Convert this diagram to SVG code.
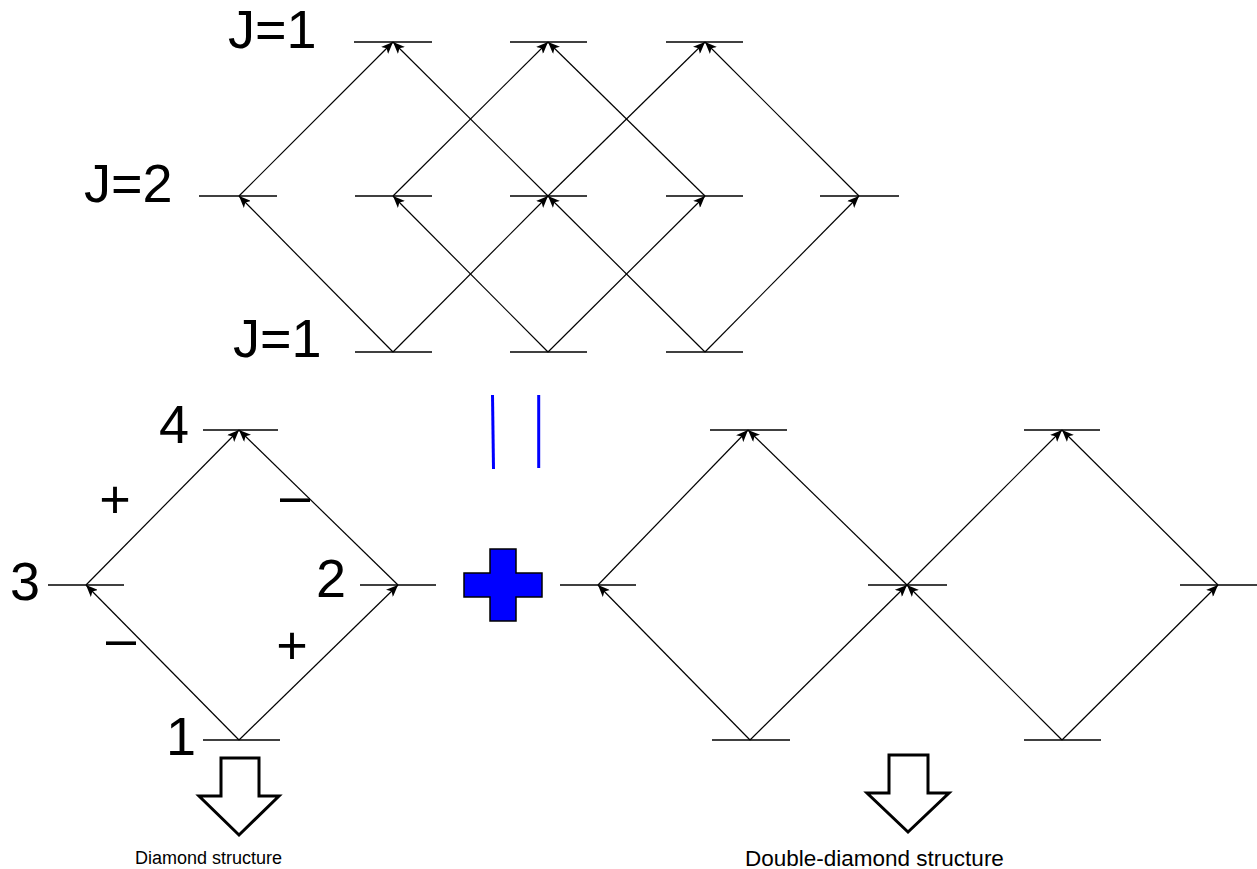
<svg xmlns="http://www.w3.org/2000/svg" width="1257" height="869" viewBox="0 0 1257 869">
<style>
.lvl{stroke:#000;stroke-width:1.5;fill:none}
.tr{stroke:#000;stroke-width:1.2;fill:none;marker-end:url(#ah)}
.big{font-family:"Liberation Sans",Arial,sans-serif;font-size:54px;fill:#000}
.num{font-family:"Liberation Sans",Arial,sans-serif;font-size:54px;fill:#000}
.cap{font-family:"Liberation Sans",Arial,sans-serif;font-size:18px;fill:#000}
.blk{fill:#fff;stroke:#000;stroke-width:3}
</style>
<defs>
<marker id="ah" markerUnits="userSpaceOnUse" markerWidth="12" markerHeight="10" viewBox="0 0 12 10" refX="12" refY="5" orient="auto">
<path d="M0,0 L12,5 L0,10 L3,5 z" fill="#000"/>
</marker>
</defs>
<rect width="1257" height="869" fill="#fff"/>

<g id="top-levels">
<line class="lvl" x1="354" y1="42" x2="432" y2="42"/>
<line class="lvl" x1="510" y1="42" x2="587" y2="42"/>
<line class="lvl" x1="666" y1="42" x2="743" y2="42"/>
<line class="lvl" x1="199" y1="196" x2="277" y2="196"/>
<line class="lvl" x1="355" y1="196" x2="432" y2="196"/>
<line class="lvl" x1="510" y1="196" x2="587" y2="196"/>
<line class="lvl" x1="666" y1="196" x2="743" y2="196"/>
<line class="lvl" x1="820" y1="196" x2="899" y2="196"/>
<line class="lvl" x1="355" y1="352" x2="432" y2="352"/>
<line class="lvl" x1="510" y1="352" x2="587" y2="352"/>
<line class="lvl" x1="666" y1="352" x2="743" y2="352"/>
</g>
<g id="top-labels">
<text class="big" x="228" y="48">J=1</text>
<text class="big" x="84" y="202">J=2</text>
<text class="big" x="233" y="357">J=1</text>
</g>

<g id="diamond-levels">
<line class="lvl" x1="203" y1="430" x2="278" y2="430"/>
<line class="lvl" x1="48" y1="585" x2="124" y2="585"/>
<line class="lvl" x1="360" y1="585" x2="436" y2="585"/>
<line class="lvl" x1="203" y1="740" x2="280" y2="740"/>
</g>
<g id="diamond-labels">
<text class="num" x="159" y="443">4</text>
<text class="num" x="10" y="600">3</text>
<text class="num" x="316" y="597">2</text>
<text class="num" x="166" y="755">1</text>
<text class="num" x="115" y="518" text-anchor="middle">+</text>
<text class="num" x="295" y="514" text-anchor="middle">–</text>
<text class="num" x="121" y="657" text-anchor="middle">–</text>
<text class="num" x="292" y="664" text-anchor="middle">+</text>
</g>

<g id="double-levels">
<line class="lvl" x1="710" y1="430" x2="787" y2="430"/>
<line class="lvl" x1="1024" y1="430" x2="1100" y2="430"/>
<line class="lvl" x1="560" y1="585" x2="636" y2="585"/>
<line class="lvl" x1="868" y1="585" x2="947" y2="585"/>
<line class="lvl" x1="1180" y1="585" x2="1257" y2="585"/>
<line class="lvl" x1="712" y1="740" x2="790" y2="740"/>
<line class="lvl" x1="1024" y1="740" x2="1101" y2="740"/>
</g>

<g id="equals">
<line x1="492.5" y1="395" x2="493.5" y2="469" stroke="#0000ff" stroke-width="3"/>
<line x1="538.7" y1="395" x2="538.7" y2="468" stroke="#0000ff" stroke-width="3"/>
</g>
<g id="plus">
<path d="M490,549 L516,549 L516,573 L542,573 L542,597 L516,597 L516,621 L490,621 L490,597 L464,597 L464,573 L490,573 Z" fill="#0000ff" stroke="#000" stroke-width="1.5"/>
</g>

<g id="connectors">
<line class="tr" x1="239" y1="196" x2="393" y2="42"/>
<line class="tr" x1="548" y1="196" x2="393" y2="42"/>
<line class="tr" x1="393" y1="196" x2="548" y2="42"/>
<line class="tr" x1="705" y1="196" x2="548" y2="42"/>
<line class="tr" x1="548" y1="196" x2="705" y2="42"/>
<line class="tr" x1="859" y1="196" x2="705" y2="42"/>
<line class="tr" x1="393" y1="352" x2="239" y2="196"/>
<line class="tr" x1="393" y1="352" x2="548" y2="196"/>
<line class="tr" x1="548" y1="352" x2="393" y2="196"/>
<line class="tr" x1="548" y1="352" x2="705" y2="196"/>
<line class="tr" x1="705" y1="352" x2="548" y2="196"/>
<line class="tr" x1="705" y1="352" x2="859" y2="196"/>

<line class="tr" x1="239" y1="740" x2="86" y2="585"/>
<line class="tr" x1="239" y1="740" x2="398" y2="585"/>
<line class="tr" x1="86" y1="585" x2="239" y2="430"/>
<line class="tr" x1="398" y1="585" x2="239" y2="430"/>

<line class="tr" x1="750" y1="740" x2="598" y2="585"/>
<line class="tr" x1="750" y1="740" x2="907" y2="585"/>
<line class="tr" x1="1062" y1="740" x2="907" y2="585"/>
<line class="tr" x1="1062" y1="740" x2="1218" y2="585"/>
<line class="tr" x1="598" y1="585" x2="748" y2="430"/>
<line class="tr" x1="907" y1="585" x2="748" y2="430"/>
<line class="tr" x1="907" y1="585" x2="1062" y2="430"/>
<line class="tr" x1="1218" y1="585" x2="1062" y2="430"/>
</g>

<g id="arrow-diamond">
<path class="blk" d="M221,758 L259,758 L259,796 L279,796 L239,835 L199,796 L221,796 Z"/>
<text class="cap" x="135" y="864">Diamond structure</text>
</g>
<g id="arrow-double">
<path class="blk" d="M889,755 L928,755 L928,793 L949,793 L908,832 L867,793 L889,793 Z"/>
<text class="cap" x="745" y="866" style="font-size:22.5px">Double-diamond structure</text>
</g>
</svg>
